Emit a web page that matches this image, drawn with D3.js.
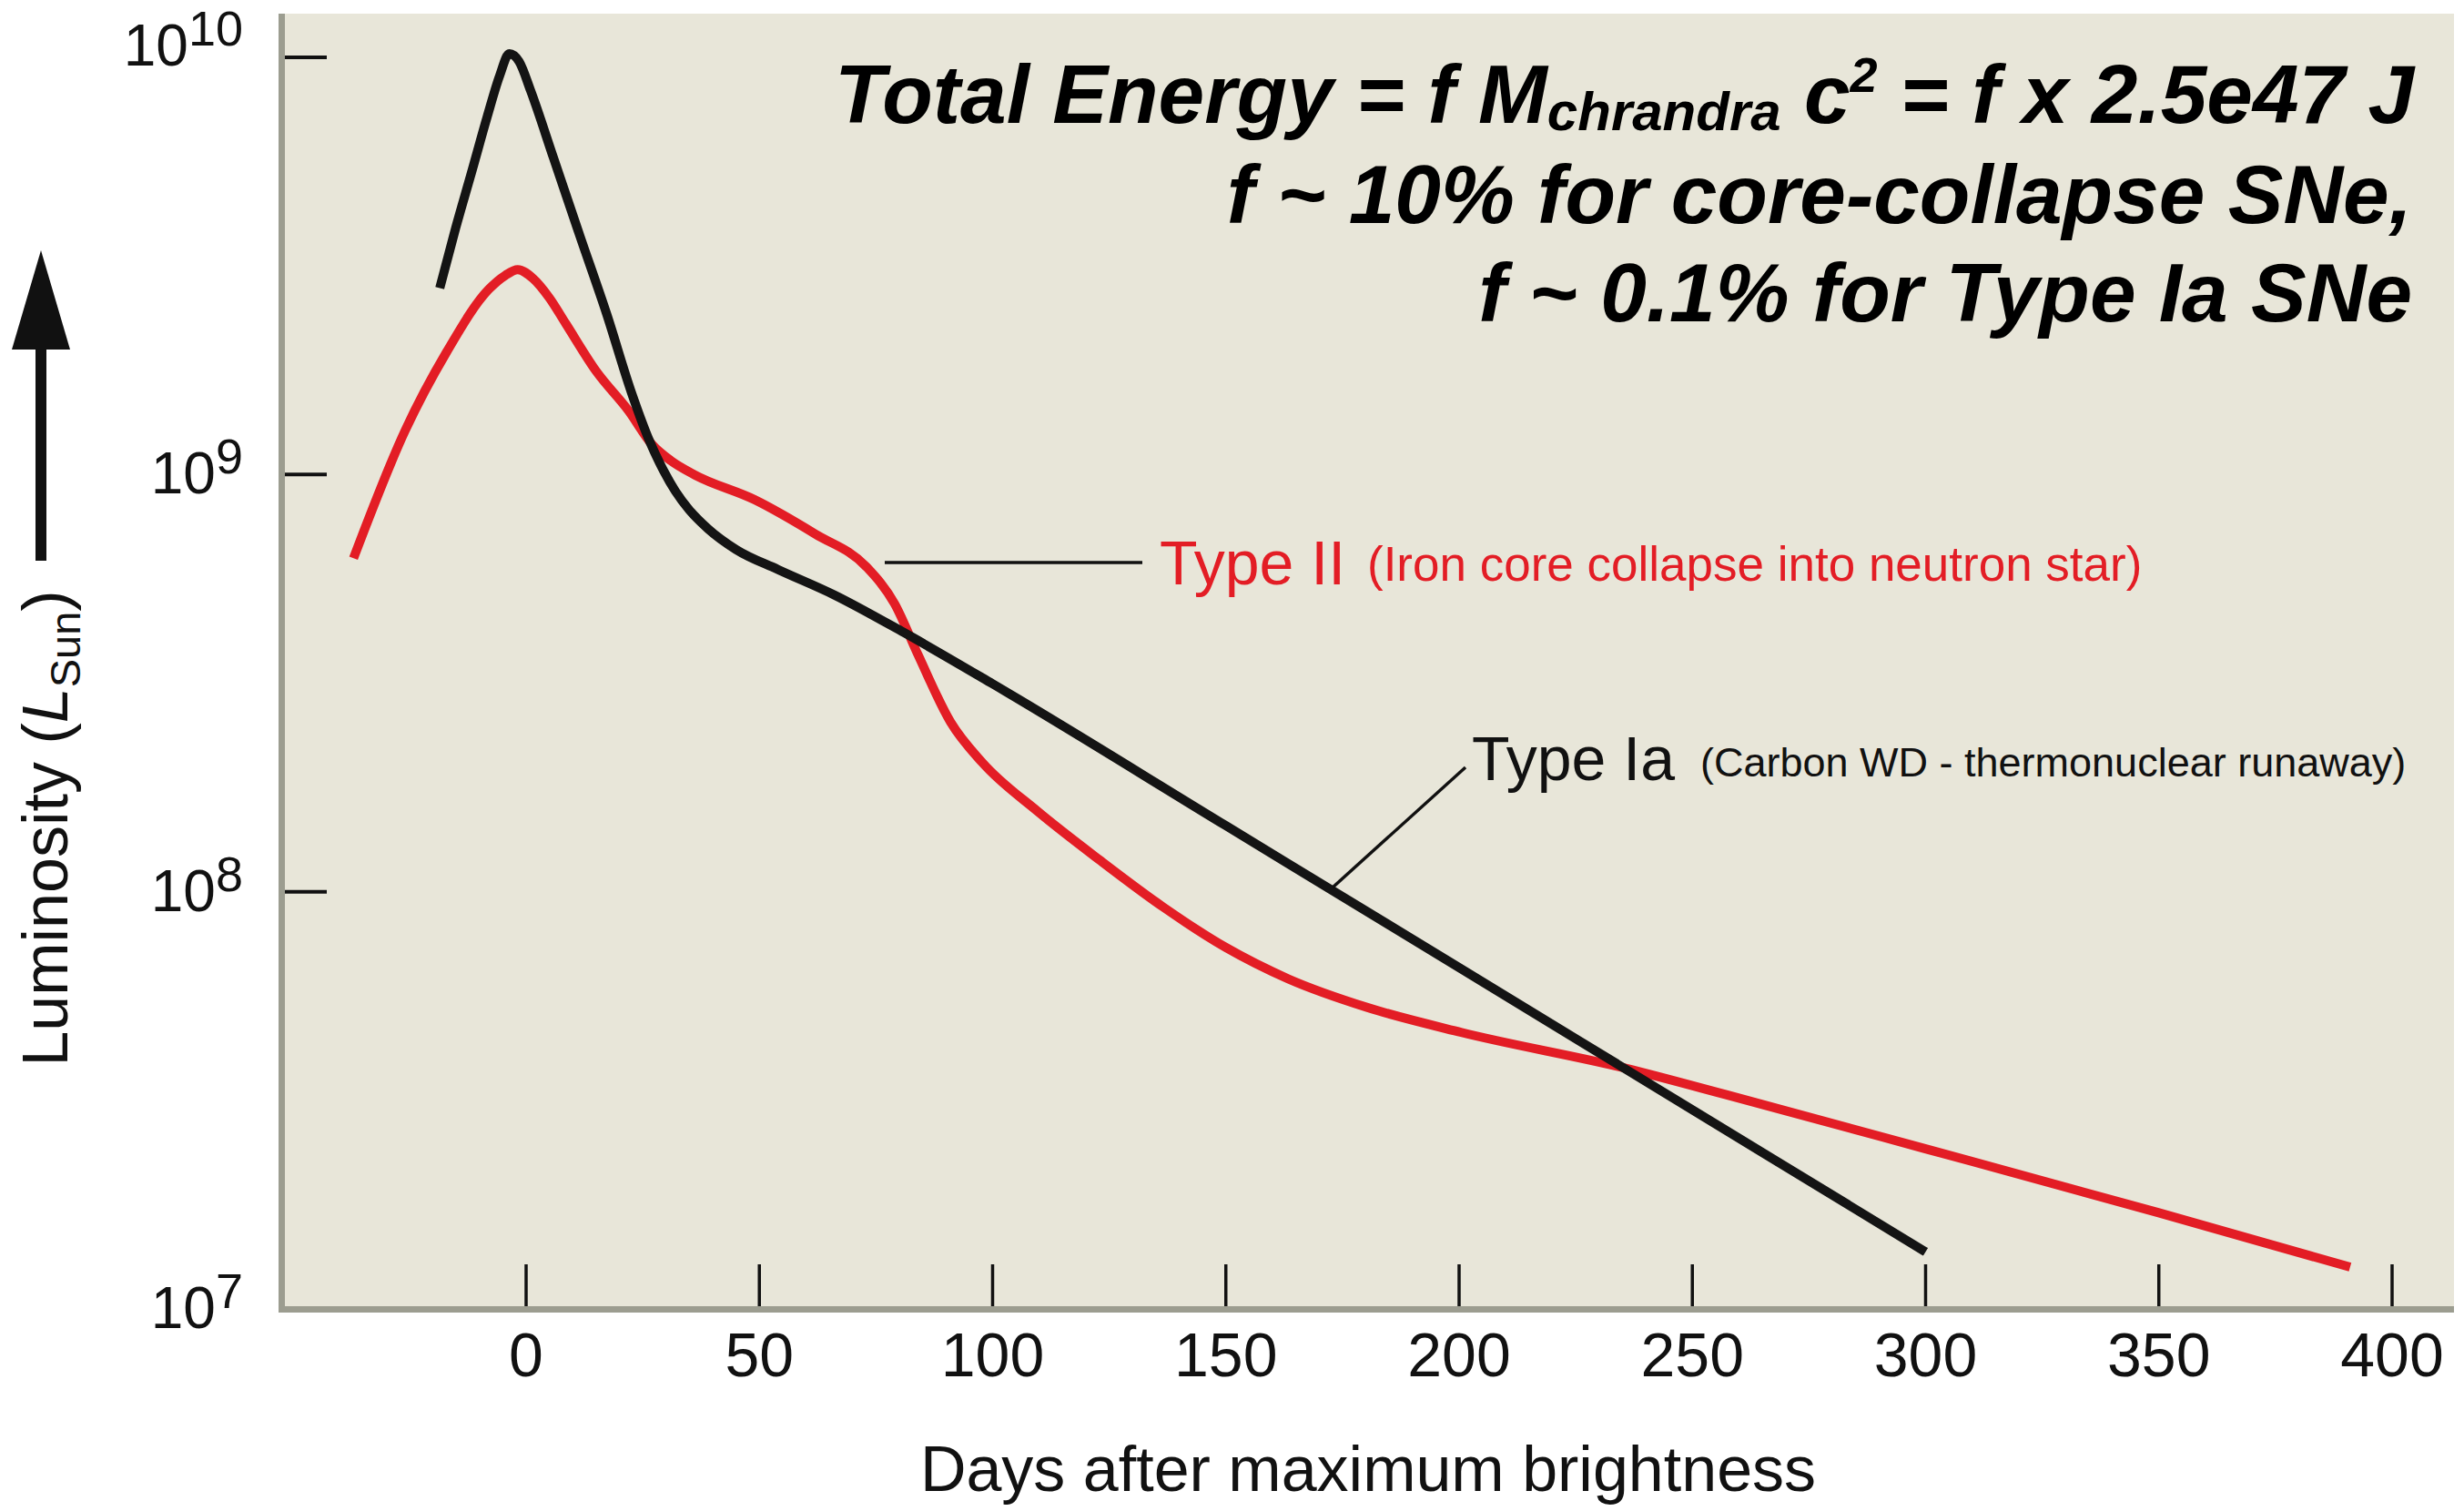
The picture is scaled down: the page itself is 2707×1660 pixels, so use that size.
<!DOCTYPE html>
<html>
<head>
<meta charset="utf-8">
<script src="https://cdn.jsdelivr.net/npm/d3@7"></script>
<style>
  body { margin: 0; background: #fff; }
  text { font-family: "Liberation Sans", Arial, Helvetica, sans-serif; }
</style>
</head>
<body>
<div class="graphics"></div>
<script>
// light curves (days after max, luminosity in L_sun)
var typeIaDays = [-18.5, -15.1, -11.7, -8.35, -5.65, -3.6, -1.5, 1, 5.8, 11.5, 17.3, 22.6, 26.5, 29.5, 32, 35, 39, 45, 54, 66, 81, 100, 150, 200, 250, 300]
var typeIaLum  = [2.8e9, 3.9e9, 5.3e9, 7.2e9, 9.05e9, 1.02e10, 9.77e9, 8.3e9, 5.77e9, 3.74e9, 2.42e9, 1.57e9, 1.2e9, 1.02e9, 9.12e8, 8.22e8, 7.41e8, 6.61e8, 5.92e8, 5.15e8, 4.18e8, 3.15e8, 1.44e8, 6.58e7, 3.0e7, 1.37e7]

var typeIIDays = [-37, -26, -17, -8, -4.5, -1.8, 1.5, 5, 8.5, 15, 22, 27, 31, 36, 49, 62, 73, 79, 84, 91, 97.8, 109.6, 123, 136.5, 150, 163.4, 180.3, 200.5, 235.9, 257.8, 300, 350, 391]
var typeIILum  = [6.3e8, 1.27e9, 1.97e9, 2.78e9, 3.0e9, 3.1e9, 2.95e9, 2.65e9, 2.3e9, 1.77e9, 1.42e9, 1.18e9, 1.08e9, 1.0e9, 8.7e8, 7.2e8, 6.0e8, 4.9e8, 3.7e8, 2.55e8, 2.04e8, 1.56e8, 1.19e8, 9.2e7, 7.35e7, 6.18e7, 5.28e7, 4.6e7, 3.77e7, 3.25e7, 2.42e7, 1.7e7, 1.26e7]

var xTicks = [0, 50, 100, 150, 200, 250, 300, 350, 400]
var yTicks = [1e7, 1e8, 1e9, 1e10]
var yTickExp = ["7", "8", "9", "10"]

var w = 2707, h = 1660;
var red = "#e31d25";

var x = d3.scaleLinear().domain([0, 400]).range([578, 2628]);
var y = d3.scaleLog().domain([1e7, 1e10]).range([1438, 63]);

var svg = d3.select('.graphics')
    .append('svg')
    .attr("width", w)
    .attr("height", h);

// plot background + axes
svg.append("rect")
    .attr("x", 306).attr("y", 15)
    .attr("width", 2696 - 306).attr("height", 1442 - 15)
    .attr("fill", "#e8e6d9");
svg.append("rect").attr("x", 306).attr("y", 15).attr("width", 7).attr("height", 1427).attr("fill", "#9c9d90");
svg.append("rect").attr("x", 306).attr("y", 1435).attr("width", 2696 - 306).attr("height", 7).attr("fill", "#9c9d90");

// x ticks
svg.selectAll('.xtick')
    .data(xTicks)
    .enter()
    .append('line')
    .attr('class', 'xtick')
    .attr("x1", function(d){ return x(d); })
    .attr("x2", function(d){ return x(d); })
    .attr("y1", 1389).attr("y2", 1435)
    .attr("stroke", "#111").attr("stroke-width", 3.5);

svg.selectAll('.xlabel')
    .data(xTicks)
    .enter()
    .append('text')
    .attr('class', 'xlabel')
    .attr("x", function(d){ return x(d); })
    .attr("y", 1512)
    .attr("text-anchor", "middle")
    .attr("font-size", 68)
    .attr("fill", "#111")
    .text(function(d){ return d; });

// y ticks (the 10^7 one sits on the axis)
svg.selectAll('.ytick')
    .data(yTicks.slice(1))
    .enter()
    .append('line')
    .attr('class', 'ytick')
    .attr("x1", 313).attr("x2", 359)
    .attr("y1", function(d){ return y(d); })
    .attr("y2", function(d){ return y(d); })
    .attr("stroke", "#111").attr("stroke-width", 4);

var ylab = svg.selectAll('.ylabel')
    .data(yTicks)
    .enter()
    .append('text')
    .attr('class', 'ylabel')
    .attr("x", 267)
    .attr("y", function(d){ return d === 1e10 ? y(d) + 9 : y(d) + 21; })
    .attr("text-anchor", "end")
    .attr("fill", "#111");
ylab.append("tspan").attr("font-size", 64).text("10");
ylab.append("tspan").attr("font-size", 54).attr("dy", -22)
    .text(function(d, i){ return yTickExp[i]; });

// curves
var line = d3.line()
    .x(function(d){ return x(d.day); })
    .y(function(d){ return y(d.lum); })
    .curve(d3.curveMonotoneX);

var typeII = typeIIDays.map(function(d, i){ return {day: d, lum: typeIILum[i]}; });
var typeIa = typeIaDays.map(function(d, i){ return {day: d, lum: typeIaLum[i]}; });

svg.append("path")
    .datum(typeII)
    .attr("d", line)
    .attr("fill", "none")
    .attr("stroke", red)
    .attr("stroke-width", 10)
    .attr("stroke-linejoin", "round");

svg.append("path")
    .datum(typeIa)
    .attr("d", line)
    .attr("fill", "none")
    .attr("stroke", "#141414")
    .attr("stroke-width", 10)
    .attr("stroke-linejoin", "round");

// labels with leader lines
svg.append("line").attr("x1", 972).attr("y1", 618).attr("x2", 1255).attr("y2", 618)
    .attr("stroke", "#111").attr("stroke-width", 3.5);
svg.append("text").attr("x", 1274).attr("y", 642).attr("font-size", 68).attr("fill", red).text("Type II");
svg.append("text").attr("x", 1502).attr("y", 638).attr("font-size", 53).attr("fill", red)
    .text("(Iron core collapse into neutron star)");

svg.append("line").attr("x1", 1464).attr("y1", 975).attr("x2", 1610).attr("y2", 843)
    .attr("stroke", "#111").attr("stroke-width", 3.5);
svg.append("text").attr("x", 1617).attr("y", 857).attr("font-size", 68).attr("fill", "#111").text("Type Ia");
svg.append("text").attr("x", 1868).attr("y", 853).attr("font-size", 45).attr("fill", "#111")
    .text("(Carbon WD - thermonuclear runaway)");

// energy note, top right
var note = svg.append("g")
    .attr("font-weight", "bold")
    .attr("font-style", "italic")
    .attr("fill", "#000");

var t1 = note.append("text").attr("x", 2652).attr("y", 135).attr("text-anchor", "end").attr("font-size", 91);
t1.append("tspan").text("Total Energy = f M");
t1.append("tspan").attr("font-size", 60).attr("dy", 8).text("chrandra");
t1.append("tspan").attr("dy", -8).text(" c");
t1.append("tspan").attr("font-size", 54).attr("dy", -34).text("2");
t1.append("tspan").attr("dy", 34).text(" = f x 2.5e47 J");

note.append("text").attr("x", 2650).attr("y", 245).attr("text-anchor", "end").attr("font-size", 91)
    .text("f ~ 10% for core-collapse SNe,");
note.append("text").attr("x", 2650).attr("y", 353).attr("text-anchor", "end").attr("font-size", 91)
    .text("f ~ 0.1% for Type Ia SNe");

// axis titles
svg.append("text")
    .attr("x", 1503).attr("y", 1638)
    .attr("text-anchor", "middle")
    .attr("font-size", 70)
    .attr("fill", "#111")
    .text("Days after maximum brightness");

var yt = svg.append("text")
    .attr("transform", "translate(74,910) rotate(-90)")
    .attr("text-anchor", "middle")
    .attr("font-size", 70)
    .attr("fill", "#111");
yt.append("tspan").text("Luminosity (");
yt.append("tspan").attr("font-style", "italic").text("L");
yt.append("tspan").attr("font-size", 47).attr("dy", 14).text("Sun");
yt.append("tspan").attr("dy", -14).text(")");

// arrow beside the y title
svg.append("rect").attr("x", 39).attr("y", 378).attr("width", 12).attr("height", 238).attr("fill", "#111");
svg.append("path").attr("d", "M45,275 L77,384 L13,384 Z").attr("fill", "#111");
</script>
</body>
</html>
